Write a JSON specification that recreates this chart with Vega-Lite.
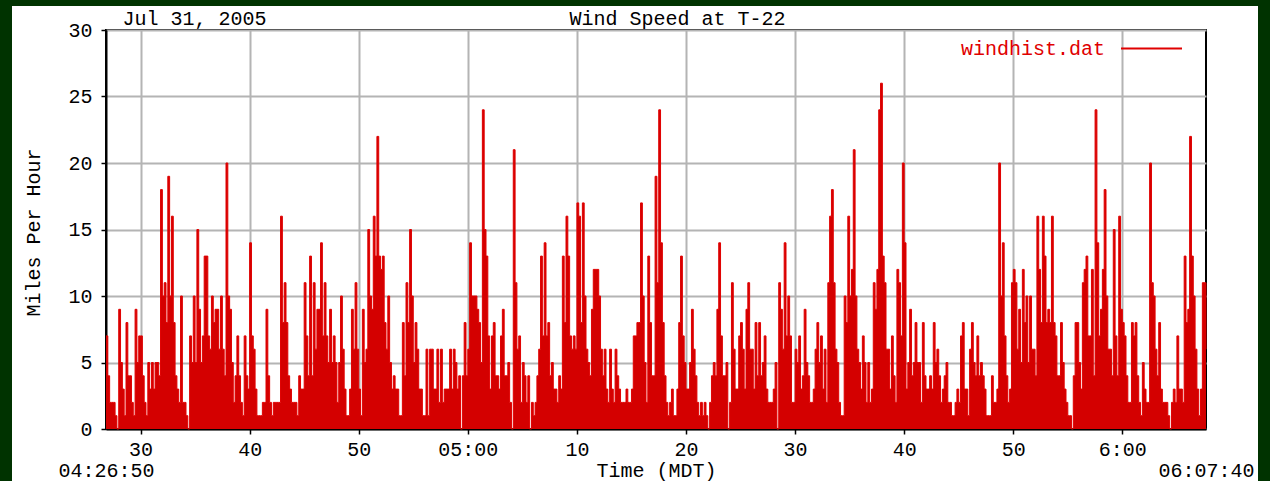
{
"$schema": "https://vega.github.io/schema/vega-lite/v6.json",
"width": 1100,
"height": 399,
"autosize": {"type": "none"},
"padding": {"left": 106, "top": 30, "right": 64, "bottom": 52},
"background": "white",
"config": {
  "view": {"stroke": "black", "strokeWidth": 2},
  "font": "Liberation Mono",
  "axis": {"labelFont": "Liberation Mono", "titleFont": "Liberation Mono", "labelFontSize": 20, "titleFontSize": 20, "titleFontWeight": "normal", "labelColor": "black", "titleColor": "black", "labelLimit": 0},
  "axisY": {"tickSize": 5, "tickColor": "black", "tickWidth": 1.5,
          "grid": true, "gridColor": "#b4b4b4", "gridWidth": 2,
          "domain": true, "domainColor": "black", "domainWidth": 2,
          "labelPadding": 9, "titleX": -67, "titleY": 202, "titleBaseline": "alphabetic", "titleAngle": 270}
},
"data": {"values": [
{"sec":0,"mph":7},{"sec":10,"mph":4},{"sec":20,"mph":2},{"sec":30,"mph":2},{"sec":40,"mph":2},{"sec":50,"mph":1},{"sec":60,"mph":0},{"sec":70,"mph":9},{"sec":80,"mph":5},{"sec":90,"mph":3},
{"sec":100,"mph":1},{"sec":110,"mph":8},{"sec":120,"mph":4},{"sec":130,"mph":4},{"sec":140,"mph":2},{"sec":150,"mph":1},{"sec":160,"mph":9},{"sec":170,"mph":5},{"sec":180,"mph":7},{"sec":190,"mph":7},
{"sec":200,"mph":4},{"sec":210,"mph":2},{"sec":220,"mph":1},{"sec":230,"mph":5},{"sec":240,"mph":3},{"sec":250,"mph":5},{"sec":260,"mph":3},{"sec":270,"mph":5},{"sec":280,"mph":5},{"sec":290,"mph":4},
{"sec":300,"mph":18},{"sec":310,"mph":10},{"sec":320,"mph":11},{"sec":330,"mph":8},{"sec":340,"mph":19},{"sec":350,"mph":10},{"sec":360,"mph":16},{"sec":370,"mph":8},{"sec":380,"mph":4},{"sec":390,"mph":3},
{"sec":400,"mph":2},{"sec":410,"mph":10},{"sec":420,"mph":2},{"sec":430,"mph":2},{"sec":440,"mph":1},{"sec":450,"mph":0},{"sec":460,"mph":7},{"sec":470,"mph":5},{"sec":480,"mph":10},{"sec":490,"mph":5},
{"sec":500,"mph":15},{"sec":510,"mph":9},{"sec":520,"mph":5},{"sec":530,"mph":7},{"sec":540,"mph":13},{"sec":550,"mph":13},{"sec":560,"mph":7},{"sec":570,"mph":6},{"sec":580,"mph":10},{"sec":590,"mph":8},
{"sec":600,"mph":9},{"sec":610,"mph":9},{"sec":620,"mph":6},{"sec":630,"mph":10},{"sec":640,"mph":6},{"sec":650,"mph":4},{"sec":660,"mph":20},{"sec":670,"mph":10},{"sec":680,"mph":9},{"sec":690,"mph":5},
{"sec":700,"mph":2},{"sec":710,"mph":4},{"sec":720,"mph":7},{"sec":730,"mph":4},{"sec":740,"mph":2},{"sec":750,"mph":1},{"sec":760,"mph":7},{"sec":770,"mph":4},{"sec":780,"mph":3},{"sec":790,"mph":14},
{"sec":800,"mph":7},{"sec":810,"mph":6},{"sec":820,"mph":3},{"sec":830,"mph":1},{"sec":840,"mph":1},{"sec":850,"mph":1},{"sec":860,"mph":2},{"sec":870,"mph":2},{"sec":880,"mph":9},{"sec":890,"mph":4},
{"sec":900,"mph":2},{"sec":910,"mph":1},{"sec":920,"mph":2},{"sec":930,"mph":2},{"sec":940,"mph":2},{"sec":950,"mph":2},{"sec":960,"mph":16},{"sec":970,"mph":8},{"sec":980,"mph":11},{"sec":990,"mph":8},
{"sec":1000,"mph":4},{"sec":1010,"mph":3},{"sec":1020,"mph":2},{"sec":1030,"mph":2},{"sec":1040,"mph":2},{"sec":1050,"mph":1},{"sec":1060,"mph":4},{"sec":1070,"mph":3},{"sec":1080,"mph":3},{"sec":1090,"mph":11},
{"sec":1100,"mph":7},{"sec":1110,"mph":4},{"sec":1120,"mph":13},{"sec":1130,"mph":4},{"sec":1140,"mph":11},{"sec":1150,"mph":6},{"sec":1160,"mph":9},{"sec":1170,"mph":9},{"sec":1180,"mph":14},{"sec":1190,"mph":7},
{"sec":1200,"mph":11},{"sec":1210,"mph":7},{"sec":1220,"mph":5},{"sec":1230,"mph":9},{"sec":1240,"mph":5},{"sec":1250,"mph":7},{"sec":1260,"mph":5},{"sec":1270,"mph":2},{"sec":1280,"mph":5},{"sec":1290,"mph":10},
{"sec":1300,"mph":6},{"sec":1310,"mph":3},{"sec":1320,"mph":1},{"sec":1330,"mph":1},{"sec":1340,"mph":3},{"sec":1350,"mph":9},{"sec":1360,"mph":6},{"sec":1370,"mph":11},{"sec":1380,"mph":6},{"sec":1390,"mph":3},
{"sec":1400,"mph":1},{"sec":1410,"mph":9},{"sec":1420,"mph":5},{"sec":1430,"mph":6},{"sec":1440,"mph":15},{"sec":1450,"mph":10},{"sec":1460,"mph":9},{"sec":1470,"mph":16},{"sec":1480,"mph":13},{"sec":1490,"mph":22},
{"sec":1500,"mph":13},{"sec":1510,"mph":12},{"sec":1520,"mph":13},{"sec":1530,"mph":8},{"sec":1540,"mph":6},{"sec":1550,"mph":10},{"sec":1560,"mph":5},{"sec":1570,"mph":3},{"sec":1580,"mph":4},{"sec":1590,"mph":3},
{"sec":1600,"mph":3},{"sec":1610,"mph":1},{"sec":1620,"mph":1},{"sec":1630,"mph":8},{"sec":1640,"mph":4},{"sec":1650,"mph":11},{"sec":1660,"mph":8},{"sec":1670,"mph":15},{"sec":1680,"mph":10},{"sec":1690,"mph":5},
{"sec":1700,"mph":8},{"sec":1710,"mph":6},{"sec":1720,"mph":3},{"sec":1730,"mph":3},{"sec":1740,"mph":1},{"sec":1750,"mph":1},{"sec":1760,"mph":6},{"sec":1770,"mph":1},{"sec":1780,"mph":6},{"sec":1790,"mph":6},
{"sec":1800,"mph":3},{"sec":1810,"mph":3},{"sec":1820,"mph":6},{"sec":1830,"mph":2},{"sec":1840,"mph":6},{"sec":1850,"mph":2},{"sec":1860,"mph":3},{"sec":1870,"mph":3},{"sec":1880,"mph":3},{"sec":1890,"mph":6},
{"sec":1900,"mph":3},{"sec":1910,"mph":6},{"sec":1920,"mph":5},{"sec":1930,"mph":3},{"sec":1940,"mph":4},{"sec":1950,"mph":0},{"sec":1960,"mph":4},{"sec":1970,"mph":8},{"sec":1980,"mph":4},{"sec":1990,"mph":6},
{"sec":2000,"mph":14},{"sec":2010,"mph":10},{"sec":2020,"mph":10},{"sec":2030,"mph":10},{"sec":2040,"mph":9},{"sec":2050,"mph":8},{"sec":2060,"mph":5},{"sec":2070,"mph":24},{"sec":2080,"mph":15},{"sec":2090,"mph":13},
{"sec":2100,"mph":7},{"sec":2110,"mph":3},{"sec":2120,"mph":7},{"sec":2130,"mph":8},{"sec":2140,"mph":4},{"sec":2150,"mph":4},{"sec":2160,"mph":3},{"sec":2170,"mph":7},{"sec":2180,"mph":9},{"sec":2190,"mph":4},
{"sec":2200,"mph":4},{"sec":2210,"mph":5},{"sec":2220,"mph":2},{"sec":2230,"mph":0},{"sec":2240,"mph":21},{"sec":2250,"mph":11},{"sec":2260,"mph":6},{"sec":2270,"mph":7},{"sec":2280,"mph":2},{"sec":2290,"mph":5},
{"sec":2300,"mph":4},{"sec":2310,"mph":2},{"sec":2320,"mph":4},{"sec":2330,"mph":0},{"sec":2340,"mph":2},{"sec":2350,"mph":1},{"sec":2360,"mph":2},{"sec":2370,"mph":4},{"sec":2380,"mph":6},{"sec":2390,"mph":13},
{"sec":2400,"mph":7},{"sec":2410,"mph":14},{"sec":2420,"mph":7},{"sec":2430,"mph":8},{"sec":2440,"mph":4},{"sec":2450,"mph":5},{"sec":2460,"mph":3},{"sec":2470,"mph":3},{"sec":2480,"mph":2},{"sec":2490,"mph":4},
{"sec":2500,"mph":3},{"sec":2510,"mph":13},{"sec":2520,"mph":8},{"sec":2530,"mph":16},{"sec":2540,"mph":13},{"sec":2550,"mph":7},{"sec":2560,"mph":6},{"sec":2570,"mph":7},{"sec":2580,"mph":6},{"sec":2590,"mph":17},
{"sec":2600,"mph":16},{"sec":2610,"mph":8},{"sec":2620,"mph":17},{"sec":2630,"mph":10},{"sec":2640,"mph":6},{"sec":2650,"mph":5},{"sec":2660,"mph":4},{"sec":2670,"mph":9},{"sec":2680,"mph":12},{"sec":2690,"mph":12},
{"sec":2700,"mph":12},{"sec":2710,"mph":10},{"sec":2720,"mph":6},{"sec":2730,"mph":4},{"sec":2740,"mph":6},{"sec":2750,"mph":3},{"sec":2760,"mph":2},{"sec":2770,"mph":6},{"sec":2780,"mph":3},{"sec":2790,"mph":2},
{"sec":2800,"mph":6},{"sec":2810,"mph":4},{"sec":2820,"mph":3},{"sec":2830,"mph":2},{"sec":2840,"mph":2},{"sec":2850,"mph":2},{"sec":2860,"mph":3},{"sec":2870,"mph":2},{"sec":2880,"mph":2},{"sec":2890,"mph":3},
{"sec":2900,"mph":7},{"sec":2910,"mph":7},{"sec":2920,"mph":8},{"sec":2930,"mph":8},{"sec":2940,"mph":17},{"sec":2950,"mph":10},{"sec":2960,"mph":5},{"sec":2970,"mph":2},{"sec":2980,"mph":13},{"sec":2990,"mph":8},
{"sec":3000,"mph":4},{"sec":3010,"mph":4},{"sec":3020,"mph":19},{"sec":3030,"mph":11},{"sec":3040,"mph":24},{"sec":3050,"mph":14},{"sec":3060,"mph":8},{"sec":3070,"mph":4},{"sec":3080,"mph":2},{"sec":3090,"mph":1},
{"sec":3100,"mph":2},{"sec":3110,"mph":3},{"sec":3120,"mph":1},{"sec":3130,"mph":1},{"sec":3140,"mph":3},{"sec":3150,"mph":8},{"sec":3160,"mph":13},{"sec":3170,"mph":7},{"sec":3180,"mph":5},{"sec":3190,"mph":3},
{"sec":3200,"mph":3},{"sec":3210,"mph":5},{"sec":3220,"mph":9},{"sec":3230,"mph":6},{"sec":3240,"mph":4},{"sec":3250,"mph":2},{"sec":3260,"mph":1},{"sec":3270,"mph":2},{"sec":3280,"mph":1},{"sec":3290,"mph":2},
{"sec":3300,"mph":1},{"sec":3310,"mph":0},{"sec":3320,"mph":2},{"sec":3330,"mph":4},{"sec":3340,"mph":5},{"sec":3350,"mph":4},{"sec":3360,"mph":9},{"sec":3370,"mph":14},{"sec":3380,"mph":7},{"sec":3390,"mph":4},
{"sec":3400,"mph":4},{"sec":3410,"mph":5},{"sec":3420,"mph":0},{"sec":3430,"mph":2},{"sec":3440,"mph":11},{"sec":3450,"mph":6},{"sec":3460,"mph":3},{"sec":3470,"mph":3},{"sec":3480,"mph":7},{"sec":3490,"mph":8},
{"sec":3500,"mph":6},{"sec":3510,"mph":3},{"sec":3520,"mph":9},{"sec":3530,"mph":11},{"sec":3540,"mph":6},{"sec":3550,"mph":6},{"sec":3560,"mph":3},{"sec":3570,"mph":8},{"sec":3580,"mph":4},{"sec":3590,"mph":8},
{"sec":3600,"mph":4},{"sec":3610,"mph":5},{"sec":3620,"mph":7},{"sec":3630,"mph":3},{"sec":3640,"mph":2},{"sec":3650,"mph":2},{"sec":3660,"mph":2},{"sec":3670,"mph":3},{"sec":3680,"mph":5},{"sec":3690,"mph":0},
{"sec":3700,"mph":11},{"sec":3710,"mph":9},{"sec":3720,"mph":6},{"sec":3730,"mph":14},{"sec":3740,"mph":7},{"sec":3750,"mph":10},{"sec":3760,"mph":7},{"sec":3770,"mph":2},{"sec":3780,"mph":2},{"sec":3790,"mph":6},
{"sec":3800,"mph":5},{"sec":3810,"mph":7},{"sec":3820,"mph":3},{"sec":3830,"mph":4},{"sec":3840,"mph":9},{"sec":3850,"mph":5},{"sec":3860,"mph":4},{"sec":3870,"mph":2},{"sec":3880,"mph":2},{"sec":3890,"mph":3},
{"sec":3900,"mph":6},{"sec":3910,"mph":8},{"sec":3920,"mph":5},{"sec":3930,"mph":7},{"sec":3940,"mph":3},{"sec":3950,"mph":6},{"sec":3960,"mph":2},{"sec":3970,"mph":11},{"sec":3980,"mph":16},{"sec":3990,"mph":18},
{"sec":4000,"mph":11},{"sec":4010,"mph":6},{"sec":4020,"mph":5},{"sec":4030,"mph":2},{"sec":4040,"mph":1},{"sec":4050,"mph":1},{"sec":4060,"mph":10},{"sec":4070,"mph":8},{"sec":4080,"mph":16},{"sec":4090,"mph":10},
{"sec":4100,"mph":12},{"sec":4110,"mph":21},{"sec":4120,"mph":10},{"sec":4130,"mph":6},{"sec":4140,"mph":5},{"sec":4150,"mph":3},{"sec":4160,"mph":7},{"sec":4170,"mph":5},{"sec":4180,"mph":2},{"sec":4190,"mph":5},
{"sec":4200,"mph":2},{"sec":4210,"mph":3},{"sec":4220,"mph":11},{"sec":4230,"mph":9},{"sec":4240,"mph":12},{"sec":4250,"mph":24},{"sec":4260,"mph":26},{"sec":4270,"mph":13},{"sec":4280,"mph":11},{"sec":4290,"mph":6},
{"sec":4300,"mph":6},{"sec":4310,"mph":3},{"sec":4320,"mph":7},{"sec":4330,"mph":4},{"sec":4340,"mph":2},{"sec":4350,"mph":12},{"sec":4360,"mph":11},{"sec":4370,"mph":7},{"sec":4380,"mph":20},{"sec":4390,"mph":14},
{"sec":4400,"mph":3},{"sec":4410,"mph":5},{"sec":4420,"mph":9},{"sec":4430,"mph":4},{"sec":4440,"mph":5},{"sec":4450,"mph":8},{"sec":4460,"mph":5},{"sec":4470,"mph":5},{"sec":4480,"mph":2},{"sec":4490,"mph":8},
{"sec":4500,"mph":4},{"sec":4510,"mph":3},{"sec":4520,"mph":3},{"sec":4530,"mph":4},{"sec":4540,"mph":3},{"sec":4550,"mph":8},{"sec":4560,"mph":5},{"sec":4570,"mph":6},{"sec":4580,"mph":4},{"sec":4590,"mph":2},
{"sec":4600,"mph":3},{"sec":4610,"mph":4},{"sec":4620,"mph":5},{"sec":4630,"mph":2},{"sec":4640,"mph":2},{"sec":4650,"mph":1},{"sec":4660,"mph":1},{"sec":4670,"mph":2},{"sec":4680,"mph":3},{"sec":4690,"mph":2},
{"sec":4700,"mph":7},{"sec":4710,"mph":8},{"sec":4720,"mph":3},{"sec":4730,"mph":3},{"sec":4740,"mph":1},{"sec":4750,"mph":6},{"sec":4760,"mph":8},{"sec":4770,"mph":5},{"sec":4780,"mph":4},{"sec":4790,"mph":7},
{"sec":4800,"mph":4},{"sec":4810,"mph":5},{"sec":4820,"mph":4},{"sec":4830,"mph":3},{"sec":4840,"mph":1},{"sec":4850,"mph":1},{"sec":4860,"mph":1},{"sec":4870,"mph":4},{"sec":4880,"mph":2},{"sec":4890,"mph":2},
{"sec":4900,"mph":3},{"sec":4910,"mph":20},{"sec":4920,"mph":10},{"sec":4930,"mph":14},{"sec":4940,"mph":7},{"sec":4950,"mph":4},{"sec":4960,"mph":2},{"sec":4970,"mph":3},{"sec":4980,"mph":11},{"sec":4990,"mph":12},
{"sec":5000,"mph":11},{"sec":5010,"mph":6},{"sec":5020,"mph":9},{"sec":5030,"mph":5},{"sec":5040,"mph":12},{"sec":5050,"mph":8},{"sec":5060,"mph":10},{"sec":5070,"mph":5},{"sec":5080,"mph":10},{"sec":5090,"mph":6},
{"sec":5100,"mph":6},{"sec":5110,"mph":4},{"sec":5120,"mph":16},{"sec":5130,"mph":12},{"sec":5140,"mph":8},{"sec":5150,"mph":16},{"sec":5160,"mph":13},{"sec":5170,"mph":8},{"sec":5180,"mph":9},{"sec":5190,"mph":8},
{"sec":5200,"mph":16},{"sec":5210,"mph":8},{"sec":5220,"mph":7},{"sec":5230,"mph":4},{"sec":5240,"mph":4},{"sec":5250,"mph":8},{"sec":5260,"mph":5},{"sec":5270,"mph":3},{"sec":5280,"mph":2},{"sec":5290,"mph":1},
{"sec":5300,"mph":1},{"sec":5310,"mph":0},{"sec":5320,"mph":4},{"sec":5330,"mph":8},{"sec":5340,"mph":8},{"sec":5350,"mph":5},{"sec":5360,"mph":3},{"sec":5370,"mph":11},{"sec":5380,"mph":12},{"sec":5390,"mph":13},
{"sec":5400,"mph":7},{"sec":5410,"mph":7},{"sec":5420,"mph":12},{"sec":5430,"mph":4},{"sec":5440,"mph":24},{"sec":5450,"mph":14},{"sec":5460,"mph":7},{"sec":5470,"mph":9},{"sec":5480,"mph":12},{"sec":5490,"mph":18},
{"sec":5500,"mph":10},{"sec":5510,"mph":6},{"sec":5520,"mph":6},{"sec":5530,"mph":4},{"sec":5540,"mph":15},{"sec":5550,"mph":7},{"sec":5560,"mph":4},{"sec":5570,"mph":16},{"sec":5580,"mph":9},{"sec":5590,"mph":8},
{"sec":5600,"mph":7},{"sec":5610,"mph":4},{"sec":5620,"mph":2},{"sec":5630,"mph":2},{"sec":5640,"mph":8},{"sec":5650,"mph":7},{"sec":5660,"mph":8},{"sec":5670,"mph":4},{"sec":5680,"mph":2},{"sec":5690,"mph":1},
{"sec":5700,"mph":5},{"sec":5710,"mph":3},{"sec":5720,"mph":2},{"sec":5730,"mph":2},{"sec":5740,"mph":20},{"sec":5750,"mph":11},{"sec":5760,"mph":10},{"sec":5770,"mph":6},{"sec":5780,"mph":4},{"sec":5790,"mph":8},
{"sec":5800,"mph":3},{"sec":5810,"mph":2},{"sec":5820,"mph":2},{"sec":5830,"mph":2},{"sec":5840,"mph":1},{"sec":5850,"mph":0},{"sec":5860,"mph":2},{"sec":5870,"mph":3},{"sec":5880,"mph":2},{"sec":5890,"mph":7},
{"sec":5900,"mph":3},{"sec":5910,"mph":3},{"sec":5920,"mph":2},{"sec":5930,"mph":13},{"sec":5940,"mph":8},{"sec":5950,"mph":9},{"sec":5960,"mph":22},{"sec":5970,"mph":13},{"sec":5980,"mph":10},{"sec":5990,"mph":6},
{"sec":6000,"mph":3},{"sec":6010,"mph":1},{"sec":6020,"mph":3},{"sec":6030,"mph":11},{"sec":6040,"mph":11},{"sec":6050,"mph":6}
]},
"layer": [
  {
    "data": {"values": [{}]},
    "mark": {"type": "rect", "filled": false, "stroke": "#003300", "strokeWidth": 12},
    "encoding": {
      "x": {"datum": -550, "type": "quantitative", "scale": {"domain": [0, 6050], "nice": false, "zero": false},
        "axis": {"orient": "top", "values": [484, 3140], "labelExpr": "datum.value < 1000 ? 'Jul 31, 2005' : 'Wind Speed at T-22'", "ticks": false, "tickSize": 0, "domain": false, "grid": false, "labelPadding": 6, "labelBaseline": "alphabetic", "labelOverlap": false, "labelFlush": false, "labelAlign": "center", "labelLimit": 0, "title": null}},
      "x2": {"datum": 6369},
      "y": {"datum": 32.256, "type": "quantitative", "scale": {"domain": [0, 30], "nice": false, "zero": false}, "axis": {"values": [0, 5, 10, 15, 20, 25, 30], "title": "Miles Per Hour"}},
      "y2": {"datum": -4.6}
    }
  },
  {
    "mark": {"type": "area", "interpolate": "step-after", "color": "#d40000"},
    "encoding": {
      "x": {"field": "sec", "type": "quantitative",
        "axis": {"orient": "bottom", "values": [0, 190, 790, 1390, 1990, 2590, 3190, 3790, 4390, 4990, 5590, 6050],
          "labelExpr": "datum.value == 0 ? ['', '04:26:50'] : datum.value == 6050 ? ['', '06:07:40'] : datum.value == 1990 ? '05:00' : datum.value == 5590 ? '6:00' : '' + ((datum.value + 1610) / 60) % 60",
          "tickSize": 5, "tickColor": "black", "tickWidth": 1.5,
          "tickOpacity": {"condition": {"test": "datum.value == 0 || datum.value == 6050", "value": 0}, "value": 1},
          "grid": true, "gridColor": "#b4b4b4", "gridWidth": 2,
          "gridOpacity": {"condition": {"test": "datum.value == 0 || datum.value == 6050", "value": 0}, "value": 1},
          "domain": true, "domainColor": "black", "domainWidth": 2,
          "labelPadding": 5, "labelLineHeight": 21, "labelOverlap": false, "labelFlush": false,
          "title": "Time (MDT)", "titleY": 47, "titleBaseline": "alphabetic"}},
      "y": {"field": "mph", "type": "quantitative", "axis": {"values": [0, 5, 10, 15, 20, 25, 30], "title": "Miles Per Hour"}}
    }
  },
  {
    "mark": {"type": "line", "interpolate": "step-after", "strokeWidth": 1},
    "encoding": {
      "x": {"field": "sec", "type": "quantitative", "axis": null},
      "y": {"field": "mph", "type": "quantitative", "axis": {"values": [0, 5, 10, 15, 20, 25, 30], "title": "Miles Per Hour"}},
      "stroke": {"datum": "windhist.dat", "scale": {"range": ["#e00000"]},
        "legend": {"orient": "none", "legendX": 1014, "legendY": -13, "title": null, "symbolType": "stroke", "symbolSize": 3721, "symbolStrokeWidth": 2, "labelAlign": "right", "labelOffset": -78, "labelFont": "Liberation Mono", "labelFontSize": 20, "labelColor": "#e00000", "padding": 0, "labelBaseline": "middle"}}
    }
  }
],
"resolve": {"axis": {"x": "independent"}}
}
